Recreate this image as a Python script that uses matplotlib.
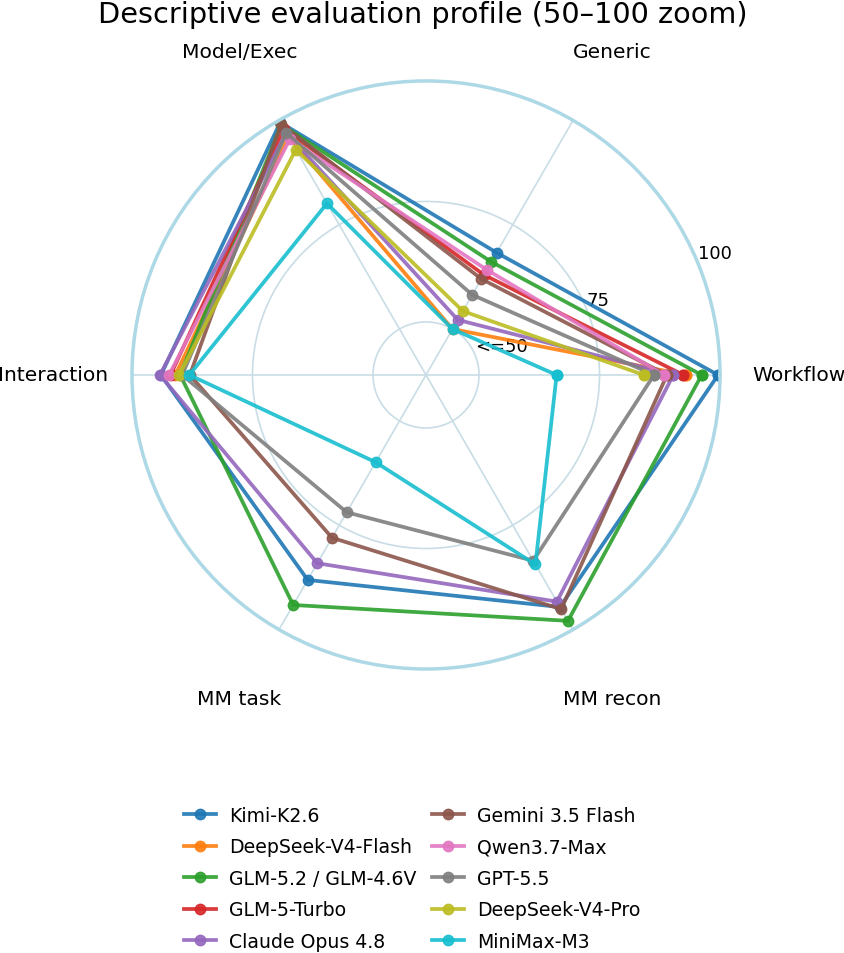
import numpy as np
import matplotlib
matplotlib.use("Agg")
import matplotlib.pyplot as plt

categories = ["Workflow", "Generic", "Model/Exec", "Interaction", "MM task", "MM recon"]
nan = np.nan
models = ["Kimi-K2.6", "DeepSeek-V4-Flash", "GLM-5.2 / GLM-4.6V", "GLM-5-Turbo",
          "Claude Opus 4.8", "Gemini 3.5 Flash", "Qwen3.7-Max", "GPT-5.5",
          "DeepSeek-V4-Pro", "MiniMax-M3"]
kimi = [99.6, 68.3, 99.5, 94.0, 88.1, 94.6]
ds_flash = [93.0, 50.0, 96.0, 91.0, nan, nan]
glm = [96.2, 66.1, 99.0, 90.0, 94.1, 97.9]
glm_turbo = [92.4, 63.0, 98.0, 92.0, nan, nan]
claude = [90.3, 52.2, 97.0, 94.2, 84.1, 93.3]
gemini = [89.0, 62.0, 99.1, 88.0, 78.0, 95.1]
qwen = [88.4, 64.2, 95.5, 92.3, nan, nan]
gpt = [86.3, 58.2, 97.0, 89.6, 71.9, 83.5]
ds_pro = [84.2, 54.3, 93.0, 90.2, nan, nan]
minimax = [66.1, 50.0, 80.1, 88.1, 59.9, 84.4]
series = [kimi, ds_flash, glm, glm_turbo, claude, gemini, qwen, gpt, ds_pro, minimax]
colors = ["#1f77b4", "#ff7f0e", "#2ca02c", "#d62728", "#9467bd",
          "#8c564b", "#e377c2", "#7f7f7f", "#bcbd22", "#17becf"]
rticks = [50, 75, 100]
rtick_labels = ["<=50", "75", "100"]

fig = plt.figure(figsize=(8.45, 9.54), dpi=100)
ax = fig.add_axes([0.1562, 0.2977, 0.6959, 0.6164], projection="polar")

n = len(categories)
angles = np.arange(n) * 2 * np.pi / n
angles_c = np.concatenate([angles, angles[:1]])

for name, vals, col in zip(models, series, colors):
    v = np.maximum(np.array(vals, dtype=float), 50)
    v = np.concatenate([v, v[:1]])
    ax.plot(angles_c, v, color=col, lw=2.7, marker="o", ms=7.5, alpha=0.9, label=name)

ax.set_ylim(39, 100)
ax.set_axisbelow(True)
ax.set_xticks(angles)
ax.set_xticklabels(categories, fontsize=14.6)
ax.tick_params(axis="x", pad=46.5)
ax.set_rgrids(rticks, labels=rtick_labels, angle=22.5, fontsize=13)
ax.grid(color="#c8dde5", linewidth=1.2)
ax.spines["polar"].set_color("#add8e6")
ax.spines["polar"].set_linewidth(2.5)

fig.text(0.5, 1 - 15 / 954, "Descriptive evaluation profile (50–100 zoom)",
         ha="center", va="center", fontsize=20.7)

handles, labels = ax.get_legend_handles_labels()
fig.legend(handles, labels, loc="upper center", bbox_to_anchor=(0.488, 1 - 790 / 954),
           ncol=2, frameon=False, fontsize=13.6, handlelength=1.7,
           handletextpad=0.69, columnspacing=0.8, labelspacing=0.66)

fig.savefig("out.png", dpi=100)
